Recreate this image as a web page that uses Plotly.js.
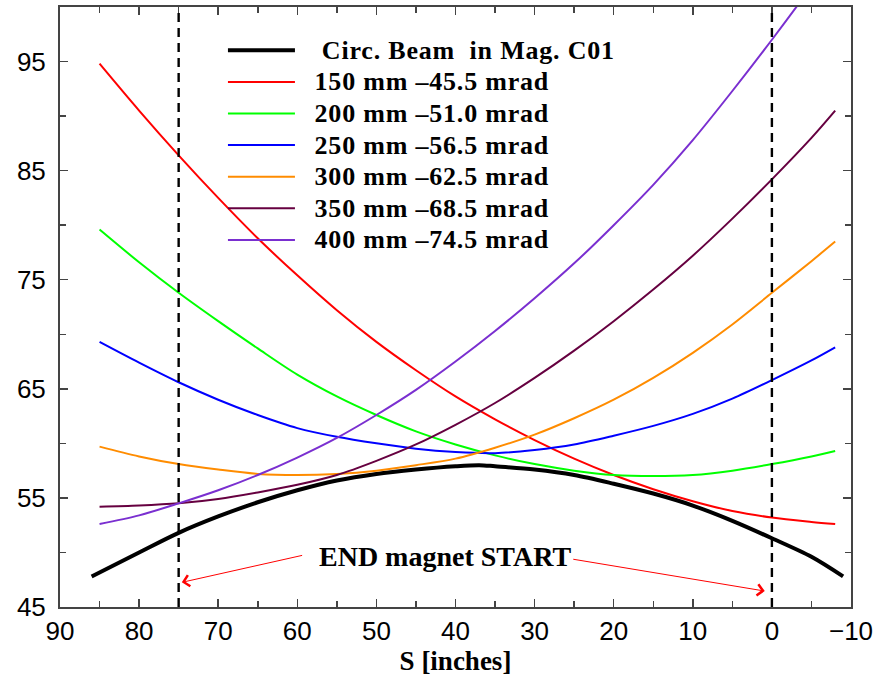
<!DOCTYPE html>
<html>
<head>
<meta charset="utf-8">
<script src="https://cdn.plot.ly/plotly-3.0.1.min.js"></script>
<style>
html,body{margin:0;padding:0;background:#fff;}
#chart{width:876px;height:677px;}
.legendtext{font-size:26px !important;letter-spacing:0.8px;}
</style>
</head>
<body>
<div id="chart"></div>
<script>
// ---- data ----
const sBeam = [86, 80, 75, 70, 65, 60, 55, 50, 45, 40, 37, 35, 30, 25, 20, 15, 10, 5, 0, -5, -9];
const beam  = [47.8, 50.0, 51.8, 53.3, 54.6, 55.7, 56.6, 57.2, 57.6, 57.9, 58.0, 57.9, 57.6, 57.1, 56.3, 55.4, 54.3, 52.9, 51.3, 49.6, 47.8];

const sOrbit = [85, 80, 75, 70, 65, 60, 55, 50, 45, 40, 35, 30, 25, 20, 15, 10, 5, 0, -5, -8];
const orbit150 = [94.8, 90.5, 86.4, 82.5, 78.8, 75.4, 72.2, 69.3, 66.7, 64.3, 62.2, 60.3, 58.6, 57.1, 55.8, 54.7, 53.8, 53.2, 52.8, 52.6];
const orbit200 = [79.6, 76.6, 73.8, 71.2, 68.7, 66.3, 64.3, 62.6, 61.1, 59.9, 58.9, 58.1, 57.5, 57.1, 57.0, 57.1, 57.5, 58.1, 58.8, 59.3];
const orbit250 = [69.3, 67.4, 65.6, 64.0, 62.6, 61.4, 60.6, 60.0, 59.5, 59.2, 59.1, 59.4, 59.9, 60.7, 61.6, 62.7, 64.1, 65.8, 67.6, 68.8];
const orbit300 = [59.7, 58.8, 58.1, 57.6, 57.2, 57.1, 57.2, 57.5, 58.0, 58.6, 59.6, 60.8, 62.3, 64.0, 66.0, 68.3, 70.9, 73.8, 76.7, 78.5];
const orbit350 = [54.2, 54.3, 54.5, 54.9, 55.5, 56.2, 57.1, 58.4, 59.9, 61.7, 63.7, 66.0, 68.5, 71.2, 74.1, 77.2, 80.6, 84.2, 88.0, 90.5];
const orbit400 = [52.6, 53.4, 54.5, 55.7, 57.1, 58.7, 60.5, 62.6, 64.9, 67.5, 70.3, 73.3, 76.5, 80.0, 83.7, 87.8, 92.3, 97.0, 101.9, 105.0];

const seriesNames = [
  "&nbsp;&nbsp;&nbsp;Circ. Beam&nbsp;&nbsp;in Mag. C01",
  "&nbsp;&nbsp;150 mm \u201345.5 mrad",
  "&nbsp;&nbsp;200 mm \u201351.0 mrad",
  "&nbsp;&nbsp;250 mm \u201356.5 mrad",
  "&nbsp;&nbsp;300 mm \u201362.5 mrad",
  "&nbsp;&nbsp;350 mm \u201368.5 mrad",
  "&nbsp;&nbsp;400 mm \u201374.5 mrad"
];
const seriesColors = ["#000000", "#ff0000", "#00ff00", "#0000ff", "#ff8c00", "#660040", "#7a2fd0"];

const magnetEdges = [75, 0];          // dashed vertical lines (S, inches)
const noteText = "END magnet START";
const notePos = [41.3, 49.6];         // [S, y]
const arrowTails = [[59.2, 49.76], [25.3, 49.4]];
const arrowTips  = [[74.6, 47.26], [0.9, 46.46]];

const xRange = [90, -10];
const yRange = [45, 100];

// ---- build traces ----
const ySeries = [beam, orbit150, orbit200, orbit250, orbit300, orbit350, orbit400];
const traces = ySeries.map((ys, i) => ({
  type: "scatter",
  mode: "lines",
  x: i === 0 ? sBeam : sOrbit,
  y: ys,
  name: seriesNames[i],
  line: {color: seriesColors[i], width: i === 0 ? 4 : 2, shape: "spline", smoothing: 0.9}
}));

const serif = "Liberation Serif, Times New Roman, serif";
const sans = "Liberation Sans, Arial, Helvetica, sans-serif";

const shapes = magnetEdges.map(s => ({
  type: "line", xref: "x", yref: "paper", x0: s, x1: s, y0: 0, y1: 1,
  line: {color: "#000", width: 2.4, dash: "9px,6px"}
}));

const annotations = [{
  x: notePos[0], y: notePos[1], xref: "x", yref: "y", text: "<b>" + noteText + "</b>",
  showarrow: false, font: {family: serif, size: 28, color: "#000"}
}].concat(arrowTips.map((tip, i) => ({
  x: tip[0], y: tip[1], xref: "x", yref: "y",
  ax: arrowTails[i][0], ay: arrowTails[i][1], axref: "x", ayref: "y",
  text: "", showarrow: true, arrowhead: 4, arrowsize: 2.2, arrowwidth: 1, arrowcolor: "#ff0000"
})));

const axisCommon = {
  showgrid: false, zeroline: false, showline: true, linecolor: "#444", linewidth: 2,
  mirror: "ticks", ticks: "inside", ticklen: 8, tickwidth: 1.5, tickcolor: "#444",
  tickfont: {family: sans, size: 26, color: "#000"},
  minor: {ticks: "inside", ticklen: 6, tickwidth: 1.5, tickcolor: "#444", dtick: 5, showgrid: false}
};

const layout = {
  width: 876, height: 677,
  margin: {l: 60, r: 25, t: 7, b: 70},
  paper_bgcolor: "#fff", plot_bgcolor: "#fff",
  showlegend: true,
  legend: {
    x: 0.206, y: 0.9625, xanchor: "left", yanchor: "top",
    bgcolor: "rgba(0,0,0,0)", borderwidth: 0,
    font: {family: serif, size: 22, color: "#000", weight: "bold"},
    itemwidth: 67, tracegroupgap: 0
  },
  xaxis: Object.assign({}, axisCommon, {
    range: xRange, autorange: false, tick0: 0, dtick: 10,
    title: {text: "<b>S [inches]</b>", font: {family: serif, size: 27, color: "#000"}, standoff: 6}
  }),
  yaxis: Object.assign({}, axisCommon, {
    range: yRange, autorange: false, tick0: 45, dtick: 10, ticklabelstandoff: 7,
    minor: Object.assign({}, axisCommon.minor, {tick0: 45})
  }),
  shapes: shapes,
  annotations: annotations
};

Plotly.newPlot("chart", traces, layout, {staticPlot: true, displayModeBar: false});
</script>
</body>
</html>
